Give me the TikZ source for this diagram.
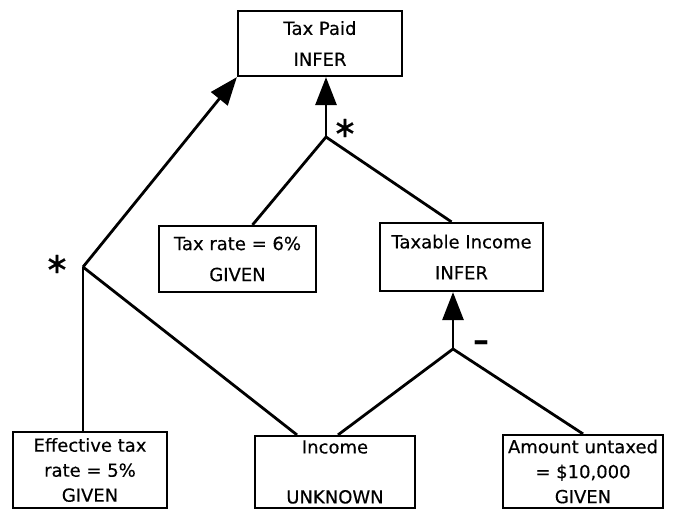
\documentclass[tikz,border=0pt]{standalone}
\usepackage{fontspec}
\setmainfont{DejaVu Sans}[UprightFeatures={FakeBold=0.4}]
\usetikzlibrary{positioning,arrows.meta}

\begin{document}
\begin{tikzpicture}[x=1pt, y=-1pt,
        factbox/.style={rectangle, draw=black, line width=2.2pt, inner sep=0pt, align=center, font=\fontsize{18}{31}\selectfont},
        leafbox/.style={factbox, font=\fontsize{18}{25}\selectfont},
        link/.style={line width=2.8pt},
        inferlink/.style={link, -{Triangle[length=28pt, width=21pt]}},
        opsign/.style={inner sep=0pt, font=\fontsize{29}{29}\selectfont},
]
        \useasboundingbox (0,0) rectangle (677,510);

        \node[factbox, minimum width=164pt, minimum height=65pt] (taxpaid) at (320,43.5) {Tax Paid\\INFER};
        \node[factbox, minimum width=157pt, minimum height=66pt] (taxrate) at (237.5,259) {Tax rate = 6\%\\GIVEN};
        \node[factbox, minimum width=163pt, minimum height=68pt] (taxable) at (461.5,257) {Taxable Income\\INFER};
        \node[leafbox, minimum width=154pt, minimum height=76pt] (effrate) at (90,470) {Effective tax\\rate = 5\%\\GIVEN};
        \node[leafbox, minimum width=160pt, minimum height=72pt] (income) at (335,472) {Income\\[25pt]UNKNOWN};
        \node[leafbox, minimum width=160pt, minimum height=73pt] (untaxed) at (583,471.5) {Amount untaxed\\= \$10,000\\GIVEN};

        \coordinate (jleft) at (83,267);
        \coordinate (jtop) at (326,137);
        \coordinate (jminus) at (453,349);

        \node[opsign] (starleft) at (57,264) {∗};
        \node[opsign] (startop) at (345,128) {∗};
        \node[opsign, font=\fontsize{32}{32}\bfseries] (minus) at (481,346) {–};

        \draw[inferlink] (jleft) -- (taxpaid.south west);
        \draw[inferlink] (jtop) -- (jtop |- taxpaid.south);
        \draw[inferlink] (jminus) -- (jminus |- taxable.south);
        \draw[link] (jtop) -- ([xshift=15pt]taxrate.north);
        \draw[link] (jtop) -- ([xshift=-10pt]taxable.north);
        \draw[link] (jleft) -- (jleft |- effrate.north);
        \draw[link] (jleft) -- ([xshift=-38pt]income.north);
        \draw[link] (jminus) -- ([xshift=3pt]income.north);
        \draw[link] (jminus) -- (untaxed.north);
\end{tikzpicture}
\end{document}
